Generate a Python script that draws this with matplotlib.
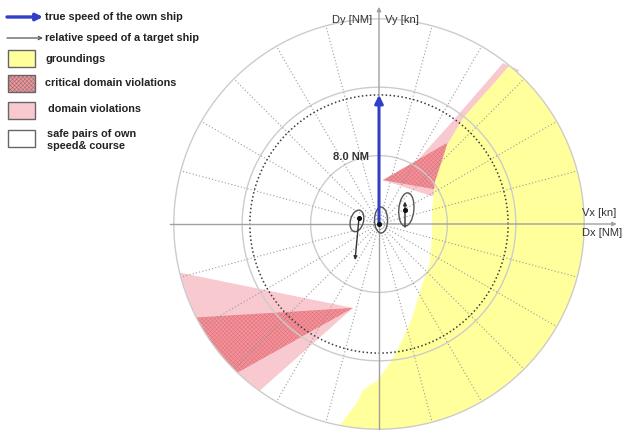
import numpy as np
import matplotlib
matplotlib.use("Agg")
import matplotlib.pyplot as plt
from matplotlib.patches import Polygon, Ellipse, Rectangle

plt.rcParams['font.family'] = ['Liberation Sans', 'DejaVu Sans']
plt.rcParams['hatch.linewidth'] = 0.25

# ---- chart data (units: 1 = one grid step of the speed/distance plane) ----
rings = [4, 8, 12]              # grey range rings
outer_r = 12
dotted_ring = 7.55              # black dotted circle
own_vy = 7.55                   # true speed of own ship (north)
spoke_angles = np.arange(0, 360, 15)

# groundings: inner boundary (top -> bottom), closed by outer arc
ground_x = [7.66, 4.91, 3.98, 3.27, 3.10, 3.10, 2.98, 2.51, 1.93, 1.23, 0.64, -0.06, -0.94, -1.29, -2.28]
ground_y = [9.30, 6.20, 4.62, 2.46, 0.82, -0.64, -2.22, -3.57, -5.50, -7.08, -8.13, -9.12, -9.71, -10.47, -11.75]
ground_arc = (-101.0, 50.5)

# domain violations / critical, north-east sector
dom_ne_x = [0.23, 2.10, 4.26, 7.25, 8.2, 3.5, 3.04]
dom_ne_y = [2.57, 3.57, 5.96, 9.41, 9.0, 1.7, 1.64]
crit_ne_x = [0.23, 3.98, 3.45]
crit_ne_y = [2.57, 4.74, 2.00]

# south-west sector: tip point and arcs on the outer ring
sw_tip = (-1.52, -4.91)
dom_sw_arc = (193.7, 234.4)
crit_sw_arc = (207.1, 226.4)

# ship domains (ellipses) and speeds
dom_cx = [0.12, -1.29, 1.60]
dom_cy = [0.23, 0.18, 0.85]
dom_w = [0.76, 0.76, 0.88]
dom_h = [1.52, 1.29, 1.95]
dom_ang = [0, -15, -5]
ship_x = [0.0, -1.17, 1.52]
ship_y = [0.0, 0.35, 0.82]
rel_x0 = [-1.17, 1.52]
rel_y0 = [0.35, -0.18]
rel_dx = [-0.23, 0.0]
rel_dy = [-2.46, 1.50]

YELLOW = '#ffff9c'
PINK = '#f9c9d0'
RED = '#f0939a'
HATCH = '#e26470'
BLUE = '#2f3fc8'
GRID = '#cccccc'

s = 17.1  # pixels per unit
cx, cy = 379, 224
fig = plt.figure(figsize=(6.35, 4.30), dpi=100)
ax = fig.add_axes([0, 0, 1, 1])
ax.set_xlim(-cx / s, (635 - cx) / s)
ax.set_ylim((cy - 430) / s, cy / s)
ax.set_aspect('equal')
ax.axis('off')


def arc(a1, a2, r=outer_r, n=120):
    t = np.radians(np.linspace(a1, a2, n))
    return np.column_stack([r * np.cos(t), r * np.sin(t)])


# south-west violations
pts = np.vstack([[sw_tip], arc(*dom_sw_arc)])
ax.add_patch(Polygon(pts, closed=True, fc=PINK, ec='none', zorder=1))
pts = np.vstack([[sw_tip], arc(*crit_sw_arc)])
ax.add_patch(Polygon(pts, closed=True, fc=RED, ec=HATCH, lw=0, hatch='xxxxxxxx', zorder=2))

# north-east violations
ax.add_patch(Polygon(np.column_stack([dom_ne_x, dom_ne_y]), closed=True, fc=PINK, ec='none', zorder=1))
ax.add_patch(Polygon(np.column_stack([crit_ne_x, crit_ne_y]), closed=True, fc=RED, ec=HATCH,
                     lw=0, hatch='xxxxxxxx', zorder=2))

# groundings
pts = np.vstack([np.column_stack([ground_x, ground_y]), arc(*ground_arc)])
ax.add_patch(Polygon(pts, closed=True, fc=YELLOW, ec='none', zorder=3))

# grid
for r in rings:
    c = arc(0, 360, r, 361)
    ax.plot(c[:, 0], c[:, 1], color=GRID, lw=1.0, zorder=4)
c = arc(0, 360, dotted_ring, 361)
ax.plot(c[:, 0], c[:, 1], color='#3a3a3a', lw=1.1, ls=(0, (1, 1.6)), zorder=5)
for a in spoke_angles:
    if a % 90 == 0:
        continue
    t = np.radians(a)
    ax.plot([0.3 * np.cos(t), outer_r * np.cos(t)], [0.3 * np.sin(t), outer_r * np.sin(t)],
            color='#9a9a9a', lw=0.8, ls=(0, (1, 2)), zorder=4)

# axes with arrow heads
ax.plot([-12.2, 0], [0, 0], color='#a0a0a0', lw=1.0, zorder=5)
ax.plot([0, 0], [-12.1, 0], color='#a0a0a0', lw=1.0, zorder=5)
ax.annotate('', xy=(13.9, 0), xytext=(0, 0),
            arrowprops=dict(arrowstyle='-|>', color='#a0a0a0', lw=1.0, mutation_scale=6,
                            shrinkA=0, shrinkB=0), zorder=5)
ax.annotate('', xy=(0, 12.7), xytext=(0, 0),
            arrowprops=dict(arrowstyle='-|>', color='#a0a0a0', lw=1.0, mutation_scale=6,
                            shrinkA=0, shrinkB=0), zorder=5)

# ship domains
for x, y, w, h, a in zip(dom_cx, dom_cy, dom_w, dom_h, dom_ang):
    ax.add_patch(Ellipse((x, y), w, h, angle=a, fc='none', ec='#555555', lw=1.0, zorder=6))

# own speed
ax.annotate('', xy=(0, own_vy), xytext=(0, 0),
            arrowprops=dict(arrowstyle='-|>', color=BLUE, lw=2.2, mutation_scale=12,
                            shrinkA=0, shrinkB=0), zorder=7)
# relative speeds of targets
for x, y, dx, dy in zip(rel_x0, rel_y0, rel_dx, rel_dy):
    ax.annotate('', xy=(x + dx, y + dy), xytext=(x, y),
                arrowprops=dict(arrowstyle='-|>', color='#333333', lw=1.0, mutation_scale=5,
                                shrinkA=0, shrinkB=0), zorder=7)
ax.scatter(ship_x, ship_y, s=7, color='#111111', zorder=8)

# axis labels
lab = dict(fontsize=8, color='#333333', zorder=9)
ax.text(-0.41, 11.93, 'Dy [NM]', ha='right', va='center', **lab)
ax.text(0.35, 11.93, 'Vy [kn]', ha='left', va='center', **lab)
ax.text(11.87, 0.64, 'Vx [kn]', ha='left', va='center', **lab)
ax.text(11.87, -0.53, 'Dx [NM]', ha='left', va='center', **lab)
ax.text(-2.69, 3.92, '8.0 NM', ha='left', va='center', fontsize=8, fontweight='bold',
        color='#333333', zorder=9)

# legend (pixel layout)
lg = fig.add_axes([0, 0, 1, 1])
lg.set_xlim(0, 635)
lg.set_ylim(430, 0)
lg.axis('off')
lg.annotate('', xy=(43, 17), xytext=(7, 17),
            arrowprops=dict(arrowstyle='-|>', color=BLUE, lw=2.4, mutation_scale=10, shrinkA=0, shrinkB=0))
lg.annotate('', xy=(43, 38), xytext=(7, 38),
            arrowprops=dict(arrowstyle='->', color='#555555', lw=0.9, mutation_scale=6, shrinkA=0, shrinkB=0))
boxes = [(50, YELLOW, None), (75, RED, 'xxxxxxxx'), (102, PINK, None), (130, 'white', None)]
for y0, fc, h in boxes:
    lg.add_patch(Rectangle((8, y0), 27, 17, fc=fc, ec='#666666', lw=1.0, hatch=h))
txt = dict(fontsize=7.8, fontweight='bold', color='#222222', va='center', ha='left')
lg.text(45, 17, 'true speed of the own ship', **txt)
lg.text(45, 38, 'relative speed of a target ship', **txt)
lg.text(45, 59, 'groundings', **txt)
lg.text(45, 83, 'critical domain violations', **txt)
lg.text(48, 109, 'domain violations', **txt)
lg.text(47, 134, 'safe pairs of own', **txt)
lg.text(47, 146, 'speed& course', **txt)

fig.savefig('out.png', dpi=100)
